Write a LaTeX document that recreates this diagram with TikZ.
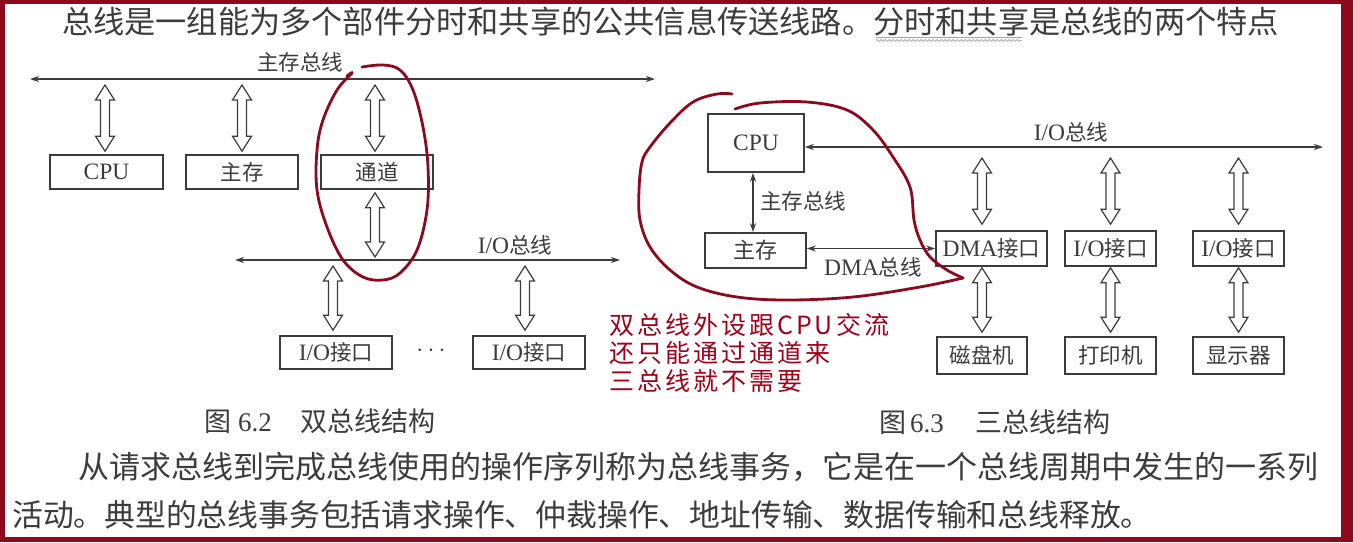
\documentclass[tikz,border=0pt]{standalone}
\usepackage{fontspec}
\setmainfont{Noto Sans CJK SC}
\newfontfamily\lat{Liberation Serif}
\newfontfamily\handcjk[LetterSpace=12]{Noto Sans CJK SC}
\usetikzlibrary{arrows.meta,calc,decorations.pathmorphing}
\definecolor{framered}{HTML}{8B0A1E}
\definecolor{ink}{HTML}{3C3C3C}
\definecolor{notered}{HTML}{A00018}
\newcommand\hollowarr[2]{%
  \draw[harrow] let \p1=(#1), \p2=(#2) in
   (\x1,\y1) -- (\x1+9.5pt,\y1-15pt) -- (\x1+4.5pt,\y1-15pt) -- (\x1+4.5pt,\y2+15pt)
   -- (\x1+9.5pt,\y2+15pt) -- (\x1,\y2) -- (\x1-9.5pt,\y2+15pt) -- (\x1-4.5pt,\y2+15pt)
   -- (\x1-4.5pt,\y1-15pt) -- (\x1-9.5pt,\y1-15pt) -- cycle;}
\newcommand\fs[1]{\fontsize{#1}{#1}\selectfont}
\newcommand\lt[1]{{\lat\fs{23.5}#1}}
\begin{document}
\begin{tikzpicture}[x=1pt,y=-1pt,
  box/.style={draw=ink, line width=1.6pt, inner sep=0pt, text=ink, font=\fs{21.5}},
  harrow/.style={draw=ink, line width=1.2pt, fill=white, line join=miter},
  bus/.style={draw=ink, line width=1.4pt, {Stealth[length=9pt,width=6pt]}-{Stealth[length=9pt,width=6pt]}},
  lbl/.style={text=ink, font=\fs{21.5}, inner sep=0pt},
  figcap/.style={text=ink, font=\fs{27}, inner sep=0pt},
  para/.style={text=ink, inner sep=0pt, anchor=west},
  redloop/.style={draw=framered, line width=2.8pt, line cap=round, line join=round},
  notetxt/.style={text=notered, font=\handcjk\fs{25}, align=left, inner sep=0pt, anchor=west}
]
% frame
\fill[framered] (0,0) rectangle (1353,542);
\fill[white] (5,4) rectangle (1341,537);
\useasboundingbox (0,0) rectangle (1353,542);

% top sentence
\node[para, font=\fs{31.2}] (top) at (62,22) {总线是一组能为多个部件分时和共享的公共信息传送线路。分时和共享是总线的两个特点};
\draw[gray!70, line width=0.6pt] (876,37.5) -- (1022,37.5);
\draw[gray!60, line width=0.8pt, decorate, decoration={snake, segment length=4pt, amplitude=1pt}] (876,40.5) -- (1022,40.5);

% ===== Fig 6.2 =====
\node[lbl] (mbusA) at (300,62) {主存总线};
\coordinate (busTL) at (30,79);
\coordinate (busTR) at (655,79);
\draw[bus] (busTL) -- (busTR);

\node[box, minimum width=113pt, minimum height=34pt] (cpuA) at (106.5,172) {\lt{CPU}};
\node[box, minimum width=112pt, minimum height=34pt] (memA) at (242,172) {主存};
\node[box, minimum width=112pt, minimum height=34pt] (chA) at (377,172) {通道};

\hollowarr{$(cpuA.north|-busTL)+(-1.5,6)$}{$(cpuA.north)+(-1.5,-3)$}
\hollowarr{$(memA.north|-busTL)+(0,6)$}{$(memA.north)+(0,-3)$}
\hollowarr{$(chA.north|-busTL)+(-2,6)$}{$(chA.north)+(-2,-3)$}

\coordinate (busBL) at (235,260);
\coordinate (busBR) at (620,260);
\draw[bus] (busBL) -- (busBR);
\node[lbl] (iobusA) at (515,245) {\lt{I/O}总线};
\hollowarr{$(chA.south)+(-2,3)$}{$(chA.south|-busBL)+(-2,-3)$}

\node[box, minimum width=112pt, minimum height=33pt] (ioA1) at (336,352.5) {\lt{I/O}接口};
\node[box, minimum width=112pt, minimum height=33pt] (ioA2) at (529,352.5) {\lt{I/O}接口};
\node[text=ink, inner sep=0pt] (dots) at (431,351) {\fs{27}$\cdots$};
\hollowarr{$(ioA1.north|-busBL)+(-3,6)$}{$(ioA1.north)+(-3,-5)$}
\hollowarr{$(ioA2.north|-busBL)+(-4,6)$}{$(ioA2.north)+(-4,-5)$}

\node[figcap, anchor=west] (capA) at (204,421) {图\hspace{7pt}{\lat 6.2}\hspace{29pt}双总线结构};

% ===== Fig 6.3 =====
\node[box, minimum width=96pt, minimum height=58pt] (cpuB) at (756,143) {\lt{CPU}};
\node[box, font=\fs{22}, minimum width=101pt, minimum height=35pt] (memB) at (755.5,250.5) {主存};
\coordinate (ioBR) at (1323,147);
\draw[bus] (ioBR -| cpuB.east) -- (ioBR);
\node[lbl] (iobusB) at (1071,132) {\lt{I/O}总线};
\draw[bus] ($(cpuB.south)+(-3,0)$) -- ($(memB.north)+(-2.5,0)$);
\node[lbl, anchor=west] (mbusB) at (760,201) {主存总线};

\node[box, minimum width=111pt, minimum height=35pt] (dma) at (991.5,248.5) {\lt{DMA}接口};
\node[box, minimum width=91pt, minimum height=35pt] (ioB2) at (1110.5,248.5) {\lt{I/O}接口};
\node[box, minimum width=91pt, minimum height=35pt] (ioB3) at (1238.5,248.5) {\lt{I/O}接口};
\draw[bus] (memB.east |- dma.west) -- (dma.west);
\node[lbl] (dmabus) at (873,267) {\lt{DMA}总线};

\node[box, minimum width=90pt, minimum height=37pt] (disk) at (982,355.5) {磁盘机};
\node[box, minimum width=91pt, minimum height=37pt] (prn) at (1110.5,355.5) {打印机};
\node[box, minimum width=91pt, minimum height=37pt] (disp) at (1238.5,355.5) {显示器};

\hollowarr{$(dma.north|-ioBR)+(-9.5,11)$}{$(dma.north)+(-9.5,-6)$}
\hollowarr{$(ioB2.north|-ioBR)+(0,11)$}{$(ioB2.north)+(0,-6)$}
\hollowarr{$(ioB3.north|-ioBR)+(0,11)$}{$(ioB3.north)+(0,-6)$}
\hollowarr{$(dma.south)+(-9.5,1)$}{$(disk.north)+(0,-4)$}
\hollowarr{$(ioB2.south)+(0,1)$}{$(prn.north)+(0,-4)$}
\hollowarr{$(ioB3.south)+(0,1)$}{$(disp.north)+(0,-4)$}

\node[figcap, anchor=west] (capB) at (879,422) {图\hspace{4pt}{\lat 6.3}\hspace{32pt}三总线结构};

% ===== handwritten notes =====
\node[notetxt] (notes) at (609,352.5) {双总线外设跟CPU交流\\[3pt]还只能通过通道来\\[3pt]三总线就不需要};

\draw[redloop] plot[smooth, tension=0.6] coordinates {(362,67) (383,65) (400,70) (413,90) (423,127) (428,167) (427,210) (417,250) (400,273) (383,280) (363,277) (343,260) (327,227) (317,190) (317,150) (323,120) (337,90) (352,73) (347,76)};

\draw[redloop] plot[smooth, tension=0.6] coordinates {(732,94) (717,94) (693,102) (670,123) (650,147) (642,162) (639,190) (640,220) (650,247) (670,270) (697,287) (737,297) (787,300) (853,297) (920,287) (963,278)};
\draw[redloop] plot[smooth, tension=0.6] coordinates {(735,109) (760,103) (807,102) (847,110) (873,130) (893,157) (910,187) (914,220) (920,240) (930,257) (947,270) (963,278)};

% ===== bottom paragraph =====
\node[para, font=\fs{31}] (p1) at (78,467) {从请求总线到完成总线使用的操作序列称为总线事务，它是在一个总线周期中发生的一系列};
\node[para, font=\fs{30.8}] (p2) at (12,515) {活动。典型的总线事务包括请求操作、仲裁操作、地址传输、数据传输和总线释放。};
\end{tikzpicture}
\end{document}
